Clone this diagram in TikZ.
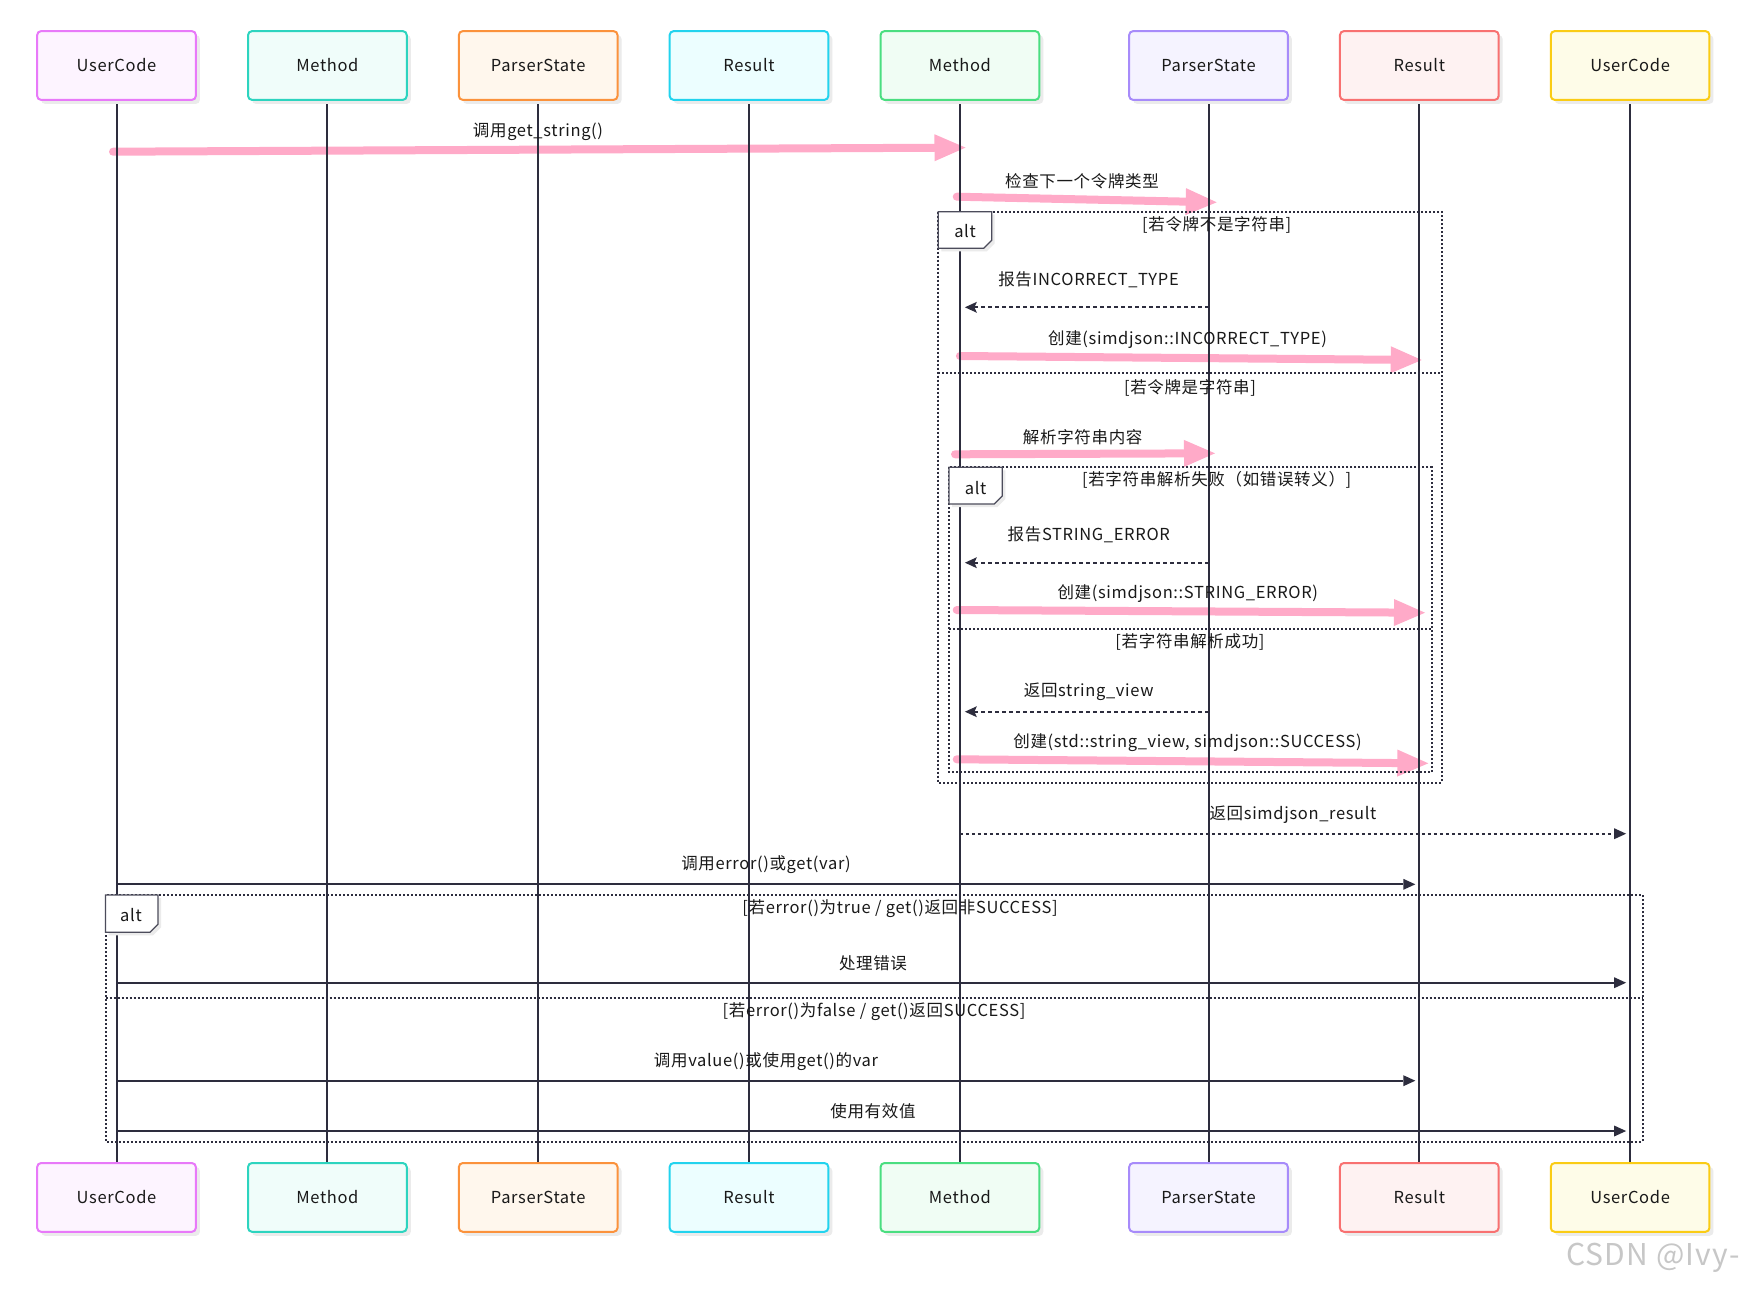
\documentclass[tikz,border=0pt]{standalone}
\usepackage{fontspec}
\setmainfont{Noto Sans CJK SC}[LetterSpace=4]
\usetikzlibrary{arrows.meta,calc,shadows}
\pgfdeclarelayer{bg}
\pgfdeclarelayer{pinkl}
\pgfsetlayers{bg,pinkl,main}
\definecolor{pinkc}{RGB}{255,170,200}
\definecolor{linec}{RGB}{45,45,62}
\definecolor{ucA}{RGB}{232,121,249}\definecolor{ucAf}{RGB}{253,244,255}
\definecolor{mA}{RGB}{45,212,191}\definecolor{mAf}{RGB}{240,253,250}
\definecolor{psA}{RGB}{251,146,60}\definecolor{psAf}{RGB}{255,247,237}
\definecolor{rA}{RGB}{34,211,238}\definecolor{rAf}{RGB}{236,254,255}
\definecolor{mB}{RGB}{74,222,128}\definecolor{mBf}{RGB}{240,253,244}
\definecolor{psB}{RGB}{167,139,250}\definecolor{psBf}{RGB}{245,243,255}
\definecolor{rB}{RGB}{248,113,113}\definecolor{rBf}{RGB}{254,242,242}
\definecolor{ucB}{RGB}{250,204,21}\definecolor{ucBf}{RGB}{254,252,232}
\tikzset{
  actor/.style n args={2}{draw=#1, fill=#2, line width=2pt, rounded corners=4pt,
     minimum width=158.7pt, minimum height=68.8pt, inner sep=0pt,
     font=\fontsize{16.5}{20}\selectfont, text=black!90,
     drop shadow={shadow xshift=4pt, shadow yshift=-4pt, fill=black!8, opacity=1}},
  lifeline/.style={draw=linec, line width=2pt},
  pinkarrow/.style={draw=pinkc, line width=8pt, line cap=round,
     -{Triangle[length=31pt,width=27pt,line width=0pt]}},
  replyarrow/.style={draw=linec, line width=2pt, dash pattern=on 4pt off 3pt,
     -{Stealth[length=12pt,width=11pt,inset=2.5pt,line width=0pt]}},
  dotarrow/.style={draw=linec, line width=2pt, dash pattern=on 3pt off 3pt,
     -{Triangle[length=12pt,width=11pt,line width=0pt]}},
  syncarrow/.style={draw=linec, line width=2pt,
     -{Triangle[length=12pt,width=11pt,line width=0pt]}},
  frameline/.style={draw=linec, line width=2pt, dash pattern=on 2pt off 2pt},
  altbox/.style={draw=linec!85, line width=1.3pt, fill=white,
     drop shadow={shadow xshift=3pt, shadow yshift=-3pt, fill=black!8, opacity=1}},
  msglabel/.style={font=\fontsize{16.5}{20}\selectfont, text=black!90, inner sep=0pt},
}
\begin{document}
\begin{tikzpicture}[x=1pt,y=-1pt]
\begin{pgfonlayer}{bg}
\fill[white] (0,0) rectangle (1740,1288);
\end{pgfonlayer}
\useasboundingbox (0,0) rectangle (1740,1288);

% lifelines
\foreach \n/\x in {uc1/116.5, m1/327.4, ps1/538.2, r1/749.0, m2/959.9, ps2/1208.5, r2/1419.3, uc2/1630.1}{
  \coordinate (\n-top) at (\x,99.9);
  \coordinate (\n-bot) at (\x,1163);
  \draw[lifeline] (\n-top) -- (\n-bot);
}

% actor boxes
\node[actor={ucA}{ucAf}] (uc1) at (116.5,65.5) {UserCode};
\node[actor={mA}{mAf}] (m1) at (327.4,65.5) {Method};
\node[actor={psA}{psAf}] (ps1) at (538.2,65.5) {ParserState};
\node[actor={rA}{rAf}] (r1) at (749.0,65.5) {Result};
\node[actor={mB}{mBf}] (m2) at (959.9,65.5) {Method};
\node[actor={psB}{psBf}] (ps2) at (1208.5,65.5) {ParserState};
\node[actor={rB}{rBf}] (r2) at (1419.3,65.5) {Result};
\node[actor={ucB}{ucBf}] (uc2) at (1630.1,65.5) {UserCode};

\node[actor={ucA}{ucAf}] (uc1b) at (116.5,1197.4) {UserCode};
\node[actor={mA}{mAf}] (m1b) at (327.4,1197.4) {Method};
\node[actor={psA}{psAf}] (ps1b) at (538.2,1197.4) {ParserState};
\node[actor={rA}{rAf}] (r1b) at (749.0,1197.4) {Result};
\node[actor={mB}{mBf}] (m2b) at (959.9,1197.4) {Method};
\node[actor={psB}{psBf}] (ps2b) at (1208.5,1197.4) {ParserState};
\node[actor={rB}{rBf}] (r2b) at (1419.3,1197.4) {Result};
\node[actor={ucB}{ucBf}] (uc2b) at (1630.1,1197.4) {UserCode};

% ---------- alt frames ----------
% outer alt
\draw[frameline] (938.3,211.7) rectangle (1441.7,782.7);
\draw[frameline] (938.3,373.3) -- (1441.7,373.3);
\draw[altbox] (938.3,211.7) -- (991.7,211.7) -- (991.7,240.3) -- (983.7,248.3) -- (938.3,248.3) -- cycle;
\node[msglabel] (alt1) at (965,231) {alt};
\node[msglabel] (g1a) at (1216.7,225) {[若令牌不是字符串]};
\node[msglabel] (g1b) at (1190,387.7) {[若令牌是字符串]};

% inner alt
\draw[frameline] (949,467.3) rectangle (1431.7,772.3);
\draw[frameline] (949,629.3) -- (1431.7,629.3);
\draw[altbox] (949,467.3) -- (1002.3,467.3) -- (1002.3,496) -- (994.3,504) -- (949,504) -- cycle;
\node[msglabel] (alt2) at (975.7,487.7) {alt};
\node[msglabel] (g2a) at (1216.7,480) {[若字符串解析失败（如错误转义）]};
\node[msglabel] (g2b) at (1190,641.7) {[若字符串解析成功]};

% bottom alt
\draw[frameline] (105.5,895) rectangle (1642.5,1141.7);
\draw[frameline] (105.5,998.3) -- (1642.5,998.3);
\draw[altbox] (105.5,895) -- (158,895) -- (158,924.3) -- (150,932.3) -- (105.5,932.3) -- cycle;
\node[msglabel] (alt3) at (131,915) {alt};
\node[msglabel] (g3a) at (900,908.3) {[若error()为true / get()返回非SUCCESS]};
\node[msglabel] (g3b) at (874,1011.7) {[若error()为false / get()返回SUCCESS]};

% ---------- messages ----------
\begin{pgfonlayer}{pinkl}
\draw[pinkarrow] ($(uc1|-0,151.7)+(-3.5,0)$) -- ($(m2|-0,147.6)+(5.6,0)$);
\draw[pinkarrow] ($(m2|-0,196.7)+(-3.2,0)$) -- ($(ps2|-0,202.3)+(8.2,0)$);
\draw[pinkarrow] (m2|-0,356) -- ($(r2|-0,360)+(2.4,0)$);
\draw[pinkarrow] ($(m2|-0,454.3)+(-4.9,0)$) -- ($(ps2|-0,453.3)+(6.5,0)$);
\draw[pinkarrow] ($(m2|-0,610)+(-3.2,0)$) -- ($(r2|-0,612.7)+(5.7,0)$);
\draw[pinkarrow] ($(m2|-0,759.3)+(-3.2,0)$) -- ($(r2|-0,763.3)+(9,0)$);
\end{pgfonlayer}

\node[msglabel] (t1) at (538,131.7) {调用get\_string()};
\node[msglabel] (t2) at (1082,181.7) {检查下一个令牌类型};

\draw[replyarrow] (ps2|-0,307.3) -- ($(m2|-0,307.3)+(5,0)$);
\node[msglabel] (t3) at (1088.5,280) {报告INCORRECT\_TYPE};

\node[msglabel] (t4) at (1187.5,340) {创建(simdjson::INCORRECT\_TYPE)};
\node[msglabel] (t5) at (1082.7,436.7) {解析字符串内容};

\draw[replyarrow] (ps2|-0,562.7) -- ($(m2|-0,562.7)+(5,0)$);
\node[msglabel] (t6) at (1088.8,535) {报告STRING\_ERROR};

\node[msglabel] (t7) at (1187.8,594) {创建(simdjson::STRING\_ERROR)};

\draw[replyarrow] (ps2|-0,711.7) -- ($(m2|-0,711.7)+(5,0)$);
\node[msglabel] (t8) at (1088.7,691.7) {返回string\_view};

\node[msglabel] (t9) at (1187.5,742.7) {创建(std::string\_view, simdjson::SUCCESS)};

\draw[dotarrow] (m2|-0,833.7) -- ($(uc2|-0,833.7)+(-4,0)$);
\node[msglabel] (t10) at (1293,815) {返回simdjson\_result};

\draw[syncarrow] (uc1|-0,884.3) -- ($(r2|-0,884.3)+(-4,0)$);
\node[msglabel] (t11) at (766,865) {调用error()或get(var)};

\draw[syncarrow] (uc1|-0,982.7) -- ($(uc2|-0,982.7)+(-4,0)$);
\node[msglabel] (t12) at (873,963.3) {处理错误};

\draw[syncarrow] (uc1|-0,1080.7) -- ($(r2|-0,1080.7)+(-4,0)$);
\node[msglabel] (t13) at (766,1061.7) {调用value()或使用get()的var};

\draw[syncarrow] (uc1|-0,1131) -- ($(uc2|-0,1131)+(-4,0)$);
\node[msglabel] (t14) at (873,1111.7) {使用有效值};

% watermark
\node[font=\fontsize{30}{34}\selectfont, text=black!22, anchor=east, inner sep=0pt] (wm) at (1740,1258) {CSDN @Ivy-};
\end{tikzpicture}
\end{document}
